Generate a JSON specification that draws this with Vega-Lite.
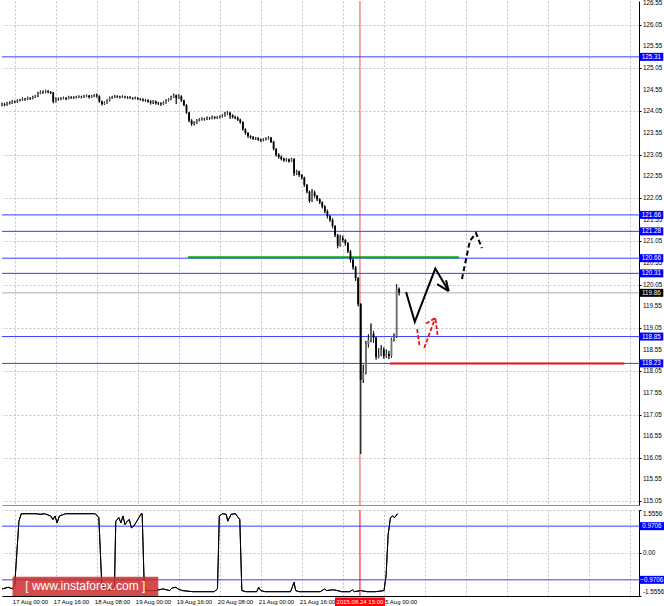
{
"$schema": "https://vega.github.io/schema/vega-lite/v6.json",
"padding": 0,
"spacing": 3,
"background": "white",
"config": {
  "view": {"stroke": null},
  "font": "Liberation Sans",
  "scale": {"continuousPadding": 0},
  "axis": {"labelFont": "Liberation Sans", "labelColor": "#000000", "gridColor": "#c4c4c4", "gridDash": [2, 2], "gridWidth": 1, "domainColor": "#000000", "tickColor": "#000000"}
},
"datasets": {
  "candles": [
    {"t":0,"o":124.20,"h":124.25,"l":124.17,"c":124.22},
    {"t":1,"o":124.22,"h":124.25,"l":124.17,"c":124.20},
    {"t":2,"o":124.20,"h":124.27,"l":124.18,"c":124.25},
    {"t":3,"o":124.25,"h":124.28,"l":124.21,"c":124.24},
    {"t":4,"o":124.24,"h":124.31,"l":124.22,"c":124.28},
    {"t":5,"o":124.28,"h":124.30,"l":124.24,"c":124.27},
    {"t":6,"o":124.27,"h":124.33,"l":124.25,"c":124.30},
    {"t":7,"o":124.30,"h":124.34,"l":124.28,"c":124.31},
    {"t":8,"o":124.31,"h":124.37,"l":124.29,"c":124.34},
    {"t":9,"o":124.34,"h":124.36,"l":124.30,"c":124.33},
    {"t":10,"o":124.33,"h":124.39,"l":124.31,"c":124.36},
    {"t":11,"o":124.36,"h":124.38,"l":124.32,"c":124.35},
    {"t":12,"o":124.35,"h":124.41,"l":124.33,"c":124.38},
    {"t":13,"o":124.38,"h":124.43,"l":124.36,"c":124.40},
    {"t":14,"o":124.40,"h":124.50,"l":124.38,"c":124.47},
    {"t":15,"o":124.47,"h":124.53,"l":124.45,"c":124.50},
    {"t":16,"o":124.50,"h":124.53,"l":124.46,"c":124.49},
    {"t":17,"o":124.49,"h":124.55,"l":124.47,"c":124.52},
    {"t":18,"o":124.52,"h":124.54,"l":124.47,"c":124.50},
    {"t":19,"o":124.50,"h":124.52,"l":124.45,"c":124.48},
    {"t":20,"o":124.48,"h":124.50,"l":124.24,"c":124.28},
    {"t":21,"o":124.28,"h":124.37,"l":124.26,"c":124.34},
    {"t":22,"o":124.34,"h":124.37,"l":124.30,"c":124.33},
    {"t":23,"o":124.33,"h":124.38,"l":124.31,"c":124.35},
    {"t":24,"o":124.35,"h":124.39,"l":124.33,"c":124.36},
    {"t":25,"o":124.36,"h":124.38,"l":124.31,"c":124.34},
    {"t":26,"o":124.34,"h":124.41,"l":124.33,"c":124.38},
    {"t":27,"o":124.38,"h":124.40,"l":124.34,"c":124.37},
    {"t":28,"o":124.37,"h":124.40,"l":124.34,"c":124.36},
    {"t":29,"o":124.36,"h":124.41,"l":124.35,"c":124.38},
    {"t":30,"o":124.38,"h":124.42,"l":124.36,"c":124.39},
    {"t":31,"o":124.39,"h":124.41,"l":124.35,"c":124.38},
    {"t":32,"o":124.38,"h":124.43,"l":124.36,"c":124.40},
    {"t":33,"o":124.40,"h":124.44,"l":124.38,"c":124.41},
    {"t":34,"o":124.41,"h":124.43,"l":124.35,"c":124.38},
    {"t":35,"o":124.38,"h":124.43,"l":124.36,"c":124.40},
    {"t":36,"o":124.40,"h":124.45,"l":124.38,"c":124.42},
    {"t":37,"o":124.42,"h":124.46,"l":124.37,"c":124.40},
    {"t":38,"o":124.40,"h":124.42,"l":124.25,"c":124.28},
    {"t":39,"o":124.28,"h":124.30,"l":124.19,"c":124.22},
    {"t":40,"o":124.22,"h":124.28,"l":124.20,"c":124.25},
    {"t":41,"o":124.25,"h":124.33,"l":124.23,"c":124.30},
    {"t":42,"o":124.30,"h":124.39,"l":124.28,"c":124.36},
    {"t":43,"o":124.36,"h":124.41,"l":124.34,"c":124.38},
    {"t":44,"o":124.38,"h":124.43,"l":124.36,"c":124.40},
    {"t":45,"o":124.40,"h":124.42,"l":124.36,"c":124.39},
    {"t":46,"o":124.39,"h":124.41,"l":124.35,"c":124.38},
    {"t":47,"o":124.38,"h":124.42,"l":124.36,"c":124.39},
    {"t":48,"o":124.39,"h":124.41,"l":124.35,"c":124.38},
    {"t":49,"o":124.38,"h":124.40,"l":124.34,"c":124.37},
    {"t":50,"o":124.37,"h":124.40,"l":124.34,"c":124.36},
    {"t":51,"o":124.36,"h":124.38,"l":124.32,"c":124.35},
    {"t":52,"o":124.35,"h":124.39,"l":124.33,"c":124.36},
    {"t":53,"o":124.36,"h":124.38,"l":124.31,"c":124.34},
    {"t":54,"o":124.34,"h":124.36,"l":124.30,"c":124.33},
    {"t":55,"o":124.33,"h":124.35,"l":124.28,"c":124.31},
    {"t":56,"o":124.31,"h":124.34,"l":124.27,"c":124.30},
    {"t":57,"o":124.30,"h":124.33,"l":124.25,"c":124.28},
    {"t":58,"o":124.28,"h":124.31,"l":124.21,"c":124.25},
    {"t":59,"o":124.25,"h":124.31,"l":124.22,"c":124.28},
    {"t":60,"o":124.28,"h":124.30,"l":124.21,"c":124.24},
    {"t":61,"o":124.24,"h":124.27,"l":124.20,"c":124.23},
    {"t":62,"o":124.23,"h":124.26,"l":124.18,"c":124.22},
    {"t":63,"o":124.22,"h":124.28,"l":124.20,"c":124.25},
    {"t":64,"o":124.25,"h":124.33,"l":124.23,"c":124.30},
    {"t":65,"o":124.30,"h":124.36,"l":124.28,"c":124.33},
    {"t":66,"o":124.33,"h":124.41,"l":124.31,"c":124.38},
    {"t":67,"o":124.38,"h":124.46,"l":124.36,"c":124.42},
    {"t":68,"o":124.42,"h":124.44,"l":124.22,"c":124.36},
    {"t":69,"o":124.36,"h":124.44,"l":124.34,"c":124.40},
    {"t":70,"o":124.40,"h":124.42,"l":124.27,"c":124.30},
    {"t":71,"o":124.30,"h":124.32,"l":124.17,"c":124.20},
    {"t":72,"o":124.20,"h":124.22,"l":123.99,"c":124.02},
    {"t":73,"o":124.02,"h":124.04,"l":123.80,"c":123.84},
    {"t":74,"o":123.84,"h":123.87,"l":123.72,"c":123.76},
    {"t":75,"o":123.76,"h":123.82,"l":123.73,"c":123.78},
    {"t":76,"o":123.78,"h":123.87,"l":123.76,"c":123.84},
    {"t":77,"o":123.84,"h":123.89,"l":123.82,"c":123.86},
    {"t":78,"o":123.86,"h":123.91,"l":123.84,"c":123.88},
    {"t":79,"o":123.88,"h":123.90,"l":123.84,"c":123.87},
    {"t":80,"o":123.87,"h":123.93,"l":123.85,"c":123.90},
    {"t":81,"o":123.90,"h":123.92,"l":123.86,"c":123.89},
    {"t":82,"o":123.89,"h":123.95,"l":123.87,"c":123.92},
    {"t":83,"o":123.92,"h":123.94,"l":123.87,"c":123.90},
    {"t":84,"o":123.90,"h":123.94,"l":123.88,"c":123.91},
    {"t":85,"o":123.91,"h":123.96,"l":123.89,"c":123.93},
    {"t":86,"o":123.93,"h":123.98,"l":123.91,"c":123.95},
    {"t":87,"o":123.95,"h":124.04,"l":123.93,"c":124.00},
    {"t":88,"o":124.00,"h":124.06,"l":123.97,"c":124.02},
    {"t":89,"o":124.02,"h":124.04,"l":123.88,"c":123.96},
    {"t":90,"o":123.96,"h":123.98,"l":123.89,"c":123.92},
    {"t":91,"o":123.92,"h":123.95,"l":123.87,"c":123.90},
    {"t":92,"o":123.90,"h":123.93,"l":123.83,"c":123.86},
    {"t":93,"o":123.86,"h":123.88,"l":123.77,"c":123.80},
    {"t":94,"o":123.80,"h":123.82,"l":123.61,"c":123.64},
    {"t":95,"o":123.64,"h":123.66,"l":123.51,"c":123.55},
    {"t":96,"o":123.55,"h":123.57,"l":123.44,"c":123.48},
    {"t":97,"o":123.48,"h":123.50,"l":123.42,"c":123.45},
    {"t":98,"o":123.45,"h":123.48,"l":123.39,"c":123.42},
    {"t":99,"o":123.42,"h":123.46,"l":123.39,"c":123.43},
    {"t":100,"o":123.43,"h":123.45,"l":123.37,"c":123.40},
    {"t":101,"o":123.40,"h":123.42,"l":123.35,"c":123.38},
    {"t":102,"o":123.38,"h":123.43,"l":123.36,"c":123.40},
    {"t":103,"o":123.40,"h":123.45,"l":123.38,"c":123.42},
    {"t":104,"o":123.42,"h":123.48,"l":123.40,"c":123.44},
    {"t":105,"o":123.44,"h":123.46,"l":123.32,"c":123.35},
    {"t":106,"o":123.35,"h":123.37,"l":123.15,"c":123.18},
    {"t":107,"o":123.18,"h":123.20,"l":123.01,"c":123.05},
    {"t":108,"o":123.05,"h":123.08,"l":122.96,"c":123.00},
    {"t":109,"o":123.00,"h":123.03,"l":122.92,"c":122.95},
    {"t":110,"o":122.95,"h":122.98,"l":122.89,"c":122.92},
    {"t":111,"o":122.92,"h":122.97,"l":122.89,"c":122.94},
    {"t":112,"o":122.94,"h":122.96,"l":122.87,"c":122.90},
    {"t":113,"o":122.90,"h":122.98,"l":122.88,"c":122.95},
    {"t":114,"o":122.95,"h":122.97,"l":122.56,"c":122.62},
    {"t":115,"o":122.62,"h":122.70,"l":122.58,"c":122.66},
    {"t":116,"o":122.66,"h":122.68,"l":122.54,"c":122.58},
    {"t":117,"o":122.58,"h":122.60,"l":122.48,"c":122.52},
    {"t":118,"o":122.52,"h":122.54,"l":122.31,"c":122.35},
    {"t":119,"o":122.35,"h":122.37,"l":122.16,"c":122.20},
    {"t":120,"o":122.20,"h":122.22,"l":121.94,"c":121.98},
    {"t":121,"o":121.98,"h":122.25,"l":121.96,"c":122.18},
    {"t":122,"o":122.18,"h":122.22,"l":122.06,"c":122.10},
    {"t":123,"o":122.10,"h":122.12,"l":121.98,"c":122.02},
    {"t":124,"o":122.02,"h":122.04,"l":121.91,"c":121.95},
    {"t":125,"o":121.95,"h":121.97,"l":121.81,"c":121.85},
    {"t":126,"o":121.85,"h":121.88,"l":121.70,"c":121.75},
    {"t":127,"o":121.75,"h":121.78,"l":121.58,"c":121.63},
    {"t":128,"o":121.63,"h":121.66,"l":121.50,"c":121.55},
    {"t":129,"o":121.55,"h":121.58,"l":121.35,"c":121.40},
    {"t":130,"o":121.40,"h":121.42,"l":121.15,"c":121.20},
    {"t":131,"o":121.20,"h":121.22,"l":120.89,"c":120.95},
    {"t":132,"o":120.95,"h":121.20,"l":120.93,"c":121.12},
    {"t":133,"o":121.12,"h":121.18,"l":121.03,"c":121.08},
    {"t":134,"o":121.08,"h":121.10,"l":120.95,"c":121.00},
    {"t":135,"o":121.00,"h":121.03,"l":120.78,"c":120.82},
    {"t":136,"o":120.82,"h":120.85,"l":120.56,"c":120.62},
    {"t":137,"o":120.62,"h":120.66,"l":120.40,"c":120.45},
    {"t":138,"o":120.45,"h":120.48,"l":120.14,"c":120.20},
    {"t":139,"o":120.20,"h":120.22,"l":119.55,"c":119.60},
    {"t":140,"o":119.60,"h":119.62,"l":116.14,"c":117.85},
    {"t":141,"o":117.85,"h":118.20,"l":117.78,"c":118.02},
    {"t":142,"o":118.02,"h":118.75,"l":117.98,"c":118.68},
    {"t":143,"o":118.68,"h":118.90,"l":118.60,"c":118.78},
    {"t":144,"o":118.78,"h":119.15,"l":118.72,"c":118.92},
    {"t":145,"o":118.92,"h":118.98,"l":118.70,"c":118.82},
    {"t":146,"o":118.82,"h":118.85,"l":118.32,"c":118.38},
    {"t":147,"o":118.38,"h":118.58,"l":118.35,"c":118.42},
    {"t":148,"o":118.42,"h":118.65,"l":118.40,"c":118.55},
    {"t":149,"o":118.55,"h":118.60,"l":118.34,"c":118.40},
    {"t":150,"o":118.40,"h":118.55,"l":118.36,"c":118.45},
    {"t":151,"o":118.45,"h":118.52,"l":118.33,"c":118.40},
    {"t":152,"o":118.40,"h":118.82,"l":118.36,"c":118.78},
    {"t":153,"o":118.78,"h":118.92,"l":118.74,"c":118.85},
    {"t":154,"o":118.85,"h":120.06,"l":118.82,"c":119.95},
    {"t":155,"o":119.95,"h":119.98,"l":119.80,"c":119.86}
  ],
  "osc": [
    {"t":0,"v":-1.30},{"t":2.5,"v":-1.24},{"t":4.1,"v":-1.30},{"t":5.0,"v":-1.12},{"t":6.6,"v":1.15},{"t":7.5,"v":1.42},
    {"t":13.3,"v":1.42},{"t":14.9,"v":1.40},{"t":16.6,"v":1.42},{"t":19.0,"v":1.34},{"t":19.9,"v":1.21},{"t":20.7,"v":1.34},
    {"t":21.5,"v":1.09},{"t":22.4,"v":1.34},{"t":24.8,"v":1.42},{"t":36.4,"v":1.42},{"t":37.8,"v":1.28},{"t":38.9,"v":-1.06},
    {"t":39.8,"v":-1.30},{"t":42.2,"v":-1.36},{"t":43.9,"v":-1.18},{"t":44.4,"v":1.15},{"t":45.6,"v":1.28},{"t":46.4,"v":1.09},
    {"t":47.2,"v":1.34},{"t":48.0,"v":1.03},{"t":48.9,"v":1.15},{"t":49.7,"v":1.21},{"t":50.5,"v":0.91},{"t":51.4,"v":0.97},
    {"t":52.2,"v":1.09},{"t":53.0,"v":1.21},{"t":54.3,"v":1.42},{"t":54.7,"v":1.42},{"t":55.5,"v":-1.18},{"t":56.3,"v":-1.36},
    {"t":59.6,"v":-1.36},{"t":62.9,"v":-1.30},{"t":65.4,"v":-1.36},{"t":66.3,"v":-1.27},{"t":67.9,"v":-1.24},{"t":68.7,"v":-1.30},
    {"t":70.4,"v":-1.36},{"t":74.5,"v":-1.40},{"t":82.8,"v":-1.40},{"t":84.1,"v":-1.30},{"t":84.8,"v":1.34},{"t":86.1,"v":1.42},
    {"t":87.5,"v":1.40},{"t":88.1,"v":1.15},{"t":89.4,"v":1.40},{"t":91.1,"v":1.42},{"t":92.8,"v":1.21},{"t":93.6,"v":-1.36},
    {"t":95.2,"v":-1.40},{"t":99.4,"v":-1.40},{"t":100.2,"v":-1.24},{"t":101.0,"v":-1.36},{"t":102.7,"v":-1.40},{"t":112.6,"v":-1.40},
    {"t":114.0,"v":-1.06},{"t":114.6,"v":-1.36},{"t":116.0,"v":-1.40},{"t":124.2,"v":-1.40},{"t":125.9,"v":-1.30},{"t":126.7,"v":-1.36},
    {"t":129.2,"v":-1.33},{"t":130.9,"v":-1.36},{"t":132.5,"v":-1.40},{"t":135.8,"v":-1.40},{"t":136.7,"v":-1.33},{"t":137.5,"v":-1.40},
    {"t":140.0,"v":-1.36},{"t":142.5,"v":-1.40},{"t":145.8,"v":-1.40},{"t":149.1,"v":-1.36},{"t":149.9,"v":-0.81},{"t":150.7,"v":0.66},
    {"t":151.6,"v":1.28},{"t":152.4,"v":1.34},{"t":153.2,"v":1.28},{"t":154.4,"v":1.42}
  ],
  "levels": [{"p":125.31},{"p":121.66},{"p":121.28},{"p":120.66},{"p":120.31},{"p":118.85},{"p":118.23}],
  "price": [{"p":119.86}],
  "yticks": [{"p":115.05},{"p":115.55},{"p":116.05},{"p":116.55},{"p":117.05},{"p":117.55},{"p":118.05},{"p":118.55},{"p":119.05},{"p":119.55},{"p":120.05},{"p":120.55},{"p":121.05},{"p":121.55},{"p":122.05},{"p":122.55},{"p":123.05},{"p":123.55},{"p":124.05},{"p":124.55},{"p":125.05},{"p":125.55},{"p":126.05},{"p":126.55}],
  "iticks": [{"v":1.5556,"label":"1.5556"},{"v":0,"label":"0.00"},{"v":-1.5556,"label":"-1.5556"}],
  "xlabels": [{"t":5,"label":"17 Aug 00:00"},{"t":21,"label":"17 Aug 16:00"},{"t":37,"label":"18 Aug 08:00"},{"t":53,"label":"19 Aug 00:00"},{"t":69,"label":"19 Aug 16:00"},{"t":85,"label":"20 Aug 08:00"},{"t":101,"label":"21 Aug 00:00"},{"t":117,"label":"21 Aug 16:00"},{"t":149,"label":"25 Aug 00:00"}],
  "segs": [{"id":"green","t1":72.6,"t2":178.3,"p":120.68},{"id":"red","t1":151.4,"t2":242.9,"p":118.23}],
  "cross": [{"t":139.7,"label":"2015.08.24 15:00"}],
  "ann": [
    {"id":"a","o":0,"t":157.7,"p":119.88},{"id":"a","o":1,"t":161.1,"p":119.19},{"id":"a","o":2,"t":169.1,"p":120.42},{"id":"a","o":3,"t":174.3,"p":119.90},
    {"id":"a2","o":0,"t":169.8,"p":120.06},{"id":"a2","o":1,"t":174.3,"p":119.90},
    {"id":"a3","o":0,"t":173.3,"p":120.15},{"id":"a3","o":1,"t":174.3,"p":119.90},
    {"id":"b","o":0,"t":179.5,"p":120.18},{"id":"b","o":1,"t":182.6,"p":121.06},{"id":"b","o":2,"t":185.0,"p":121.24},{"id":"b","o":3,"t":187.3,"p":120.89},
    {"id":"r1","o":0,"t":162.0,"p":119.02},{"id":"r1","o":1,"t":162.9,"p":118.65},
    {"id":"r2","o":0,"t":164.8,"p":118.59},{"id":"r2","o":1,"t":169.1,"p":119.28},
    {"id":"r3","o":0,"t":165.5,"p":119.15},{"id":"r3","o":1,"t":169.1,"p":119.28},{"id":"r3","o":2,"t":170.0,"p":118.88}
  ],
  "osclevels": [{"v":0.9706},{"v":-0.9706}],
  "wm": [{"text":"[  www.instaforex.com  ]"}]
},
"vconcat": [
  {
    "width": 637,
    "height": 504,
    "layer": [
      {
        "data": {"name": "candles"},
        "mark": {"type": "rule", "color": "#222222", "strokeWidth": 1},
        "encoding": {
          "x": {"field": "t", "type": "quantitative", "scale": {"domain": [0, 248.6], "nice": false, "zero": false, "padding": 0},
                "axis": {"values": [5,13,21,29,37,45,53,61,69,77,85,93,101,109,117,125,133,141,149,157,165,173,181,189,197,205,213,221,229,237,245], "labels": false, "ticks": false, "domain": true, "domainColor": "#909090", "grid": true, "title": null}},
          "y": {"field": "l", "type": "quantitative", "scale": {"domain": [114.96, 126.6], "nice": false, "zero": false, "padding": 0},
                "axis": {"orient": "right", "values": [115.05,115.55,116.05,116.55,117.05,117.55,118.05,118.55,119.05,119.55,120.05,120.55,121.05,121.55,122.05,122.55,123.05,123.55,124.05,124.55,125.05,125.55,126.05,126.55], "labels": false, "grid": true, "tickSize": 2, "title": null}},
          "y2": {"field": "h"}
        }
      },
      {
        "data": {"name": "yticks"},
        "mark": {"type": "text", "color": "#000000", "fontSize": 6.3, "align": "left", "baseline": "middle", "dx": 4},
        "encoding": {"x": {"datum": 248.6}, "y": {"field": "p", "type": "quantitative"}, "text": {"field": "p", "type": "quantitative", "format": ".2f"}}
      },
      {
        "data": {"name": "levels"},
        "mark": {"type": "rule", "color": "#3c3cff", "strokeWidth": 1},
        "encoding": {"x": {"datum": 0}, "x2": {"datum": 248.6}, "y": {"field": "p", "type": "quantitative"}}
      },
      {
        "data": {"name": "price"},
        "mark": {"type": "rule", "color": "#c8c8c8", "strokeWidth": 1.5},
        "encoding": {"x": {"datum": 0}, "x2": {"datum": 248.6}, "y": {"field": "p", "type": "quantitative"}}
      },
      {
        "data": {"name": "segs"},
        "transform": [{"filter": "datum.id == 'green'"}],
        "mark": {"type": "rule", "color": "#00b000", "strokeWidth": 2},
        "encoding": {"x": {"field": "t1", "type": "quantitative"}, "x2": {"field": "t2"}, "y": {"field": "p", "type": "quantitative"}}
      },
      {
        "data": {"name": "segs"},
        "transform": [{"filter": "datum.id == 'red'"}],
        "mark": {"type": "rule", "color": "#ee1111", "strokeWidth": 2},
        "encoding": {"x": {"field": "t1", "type": "quantitative"}, "x2": {"field": "t2"}, "y": {"field": "p", "type": "quantitative"}}
      },
      {
        "data": {"name": "cross"},
        "mark": {"type": "rule", "color": "#e02020", "strokeWidth": 1, "opacity": 0.8},
        "encoding": {"x": {"field": "t", "type": "quantitative"}}
      },
      {
        "data": {"name": "candles"},
        "mark": {"type": "rule", "color": "#222222", "strokeWidth": 1},
        "encoding": {"x": {"field": "t", "type": "quantitative"}, "y": {"field": "l", "type": "quantitative"}, "y2": {"field": "h"}}
      },
      {
        "data": {"name": "candles"},
        "mark": {"type": "bar", "size": 1.8},
        "encoding": {
          "x": {"field": "t", "type": "quantitative"},
          "y": {"field": "o", "type": "quantitative"},
          "y2": {"field": "c"},
          "color": {"condition": {"test": "datum.c >= datum.o", "value": "#707070"}, "value": "#000000"}
        }
      },
      {
        "data": {"name": "ann"},
        "transform": [{"filter": "datum.id == 'a' || datum.id == 'a2' || datum.id == 'a3'"}],
        "mark": {"type": "line", "color": "#000000", "strokeWidth": 2},
        "encoding": {"x": {"field": "t", "type": "quantitative"}, "y": {"field": "p", "type": "quantitative"}, "detail": {"field": "id"}, "order": {"field": "o"}}
      },
      {
        "data": {"name": "ann"},
        "transform": [{"filter": "datum.id == 'b'"}],
        "mark": {"type": "line", "color": "#000000", "strokeWidth": 2, "strokeDash": [5, 3]},
        "encoding": {"x": {"field": "t", "type": "quantitative"}, "y": {"field": "p", "type": "quantitative"}, "detail": {"field": "id"}, "order": {"field": "o"}}
      },
      {
        "data": {"name": "ann"},
        "transform": [{"filter": "datum.id == 'r1' || datum.id == 'r2' || datum.id == 'r3'"}],
        "mark": {"type": "line", "color": "#ee1111", "strokeWidth": 1.8, "strokeDash": [4, 2]},
        "encoding": {"x": {"field": "t", "type": "quantitative"}, "y": {"field": "p", "type": "quantitative"}, "detail": {"field": "id"}, "order": {"field": "o"}}
      },
      {
        "data": {"name": "levels"},
        "mark": {"type": "tick", "orient": "horizontal", "color": "#0000ff", "size": 24, "thickness": 8, "opacity": 1},
        "encoding": {"x": {"datum": 253.4}, "y": {"field": "p", "type": "quantitative"}}
      },
      {
        "data": {"name": "levels"},
        "mark": {"type": "text", "color": "#ffffff", "fontSize": 6.3, "align": "center", "baseline": "middle"},
        "encoding": {"x": {"datum": 253.4}, "y": {"field": "p", "type": "quantitative"}, "text": {"field": "p", "type": "quantitative", "format": ".2f"}}
      },
      {
        "data": {"name": "price"},
        "mark": {"type": "tick", "orient": "horizontal", "color": "#000000", "size": 24, "thickness": 8, "opacity": 1},
        "encoding": {"x": {"datum": 253.4}, "y": {"field": "p", "type": "quantitative"}}
      },
      {
        "data": {"name": "price"},
        "mark": {"type": "text", "color": "#ffffff", "fontSize": 6.3, "align": "center", "baseline": "middle"},
        "encoding": {"x": {"datum": 253.4}, "y": {"field": "p", "type": "quantitative"}, "text": {"field": "p", "type": "quantitative", "format": ".2f"}}
      }
    ]
  },
  {
    "width": 637,
    "height": 86,
    "layer": [
      {
        "data": {"name": "osc"},
        "mark": {"type": "line", "color": "#000000", "strokeWidth": 1},
        "encoding": {
          "x": {"field": "t", "type": "quantitative", "scale": {"domain": [0, 248.6], "nice": false, "zero": false, "padding": 0},
                "axis": {"values": [5,13,21,29,37,45,53,61,69,77,85,93,101,109,117,125,133,141,149,157,165,173,181,189,197,205,213,221,229,237,245], "labels": false, "ticks": false, "domain": true, "grid": true, "title": null}},
          "y": {"field": "v", "type": "quantitative", "scale": {"domain": [-1.5556, 1.5556], "nice": false, "zero": false, "padding": 0},
                "axis": {"orient": "right", "values": [-1.5556, 0, 1.5556], "labels": false, "grid": true, "tickSize": 2, "title": null}}
        }
      },
      {
        "data": {"name": "osclevels"},
        "mark": {"type": "rule", "color": "#3c3cff", "strokeWidth": 1},
        "encoding": {"x": {"datum": 0}, "x2": {"datum": 248.6}, "y": {"field": "v", "type": "quantitative"}}
      },
      {
        "data": {"name": "cross"},
        "mark": {"type": "rule", "color": "#ff0000", "strokeWidth": 1},
        "encoding": {"x": {"field": "t", "type": "quantitative"}}
      },
      {
        "data": {"name": "osc"},
        "mark": {"type": "line", "color": "#000000", "strokeWidth": 1},
        "encoding": {"x": {"field": "t", "type": "quantitative"}, "y": {"field": "v", "type": "quantitative"}}
      },
      {
        "data": {"name": "wm"},
        "mark": {"type": "rect", "color": "#cc2b2b", "opacity": 0.85},
        "encoding": {"x": {"datum": 4.1}, "x2": {"datum": 61}, "y": {"datum": -0.86}, "y2": {"datum": -1.5556}}
      },
      {
        "data": {"name": "wm"},
        "mark": {"type": "text", "color": "#ffffff", "fontSize": 12, "align": "center", "baseline": "middle"},
        "encoding": {"x": {"datum": 32.5}, "y": {"datum": -1.21}, "text": {"field": "text"}}
      },
      {
        "data": {"name": "iticks"},
        "transform": [{"filter": "datum.v > 1"}],
        "mark": {"type": "text", "color": "#000000", "fontSize": 6.3, "align": "left", "baseline": "top", "dx": 4, "dy": 1},
        "encoding": {"x": {"datum": 248.6}, "y": {"field": "v", "type": "quantitative"}, "text": {"field": "label"}}
      },
      {
        "data": {"name": "iticks"},
        "transform": [{"filter": "datum.v == 0"}],
        "mark": {"type": "text", "color": "#000000", "fontSize": 6.3, "align": "left", "baseline": "middle", "dx": 4},
        "encoding": {"x": {"datum": 248.6}, "y": {"field": "v", "type": "quantitative"}, "text": {"field": "label"}}
      },
      {
        "data": {"name": "iticks"},
        "transform": [{"filter": "datum.v < -1"}],
        "mark": {"type": "text", "color": "#000000", "fontSize": 6.3, "align": "left", "baseline": "bottom", "dx": 4, "dy": -1},
        "encoding": {"x": {"datum": 248.6}, "y": {"field": "v", "type": "quantitative"}, "text": {"field": "label"}}
      },
      {
        "data": {"name": "osclevels"},
        "mark": {"type": "tick", "orient": "horizontal", "color": "#0000ff", "size": 25, "thickness": 8, "opacity": 1},
        "encoding": {"x": {"datum": 253.6}, "y": {"field": "v", "type": "quantitative"}}
      },
      {
        "data": {"name": "osclevels"},
        "mark": {"type": "text", "color": "#ffffff", "fontSize": 6.3, "align": "center", "baseline": "middle"},
        "encoding": {"x": {"datum": 253.6}, "y": {"field": "v", "type": "quantitative"}, "text": {"field": "v", "type": "quantitative", "format": ".4f"}}
      },
      {
        "data": {"name": "xlabels"},
        "mark": {"type": "text", "color": "#000000", "fontSize": 6, "align": "left", "baseline": "middle", "dx": -2},
        "encoding": {"x": {"field": "t", "type": "quantitative"}, "y": {"datum": -1.77}, "text": {"field": "label"}}
      },
      {
        "data": {"name": "cross"},
        "mark": {"type": "tick", "orient": "horizontal", "color": "#ff0000", "size": 50, "thickness": 9, "opacity": 1},
        "encoding": {"x": {"field": "t", "type": "quantitative"}, "y": {"datum": -1.77}}
      },
      {
        "data": {"name": "cross"},
        "mark": {"type": "text", "color": "#ffffff", "fontSize": 6, "align": "center", "baseline": "middle"},
        "encoding": {"x": {"field": "t", "type": "quantitative"}, "y": {"datum": -1.77}, "text": {"field": "label"}}
      }
    ]
  }
]
}
